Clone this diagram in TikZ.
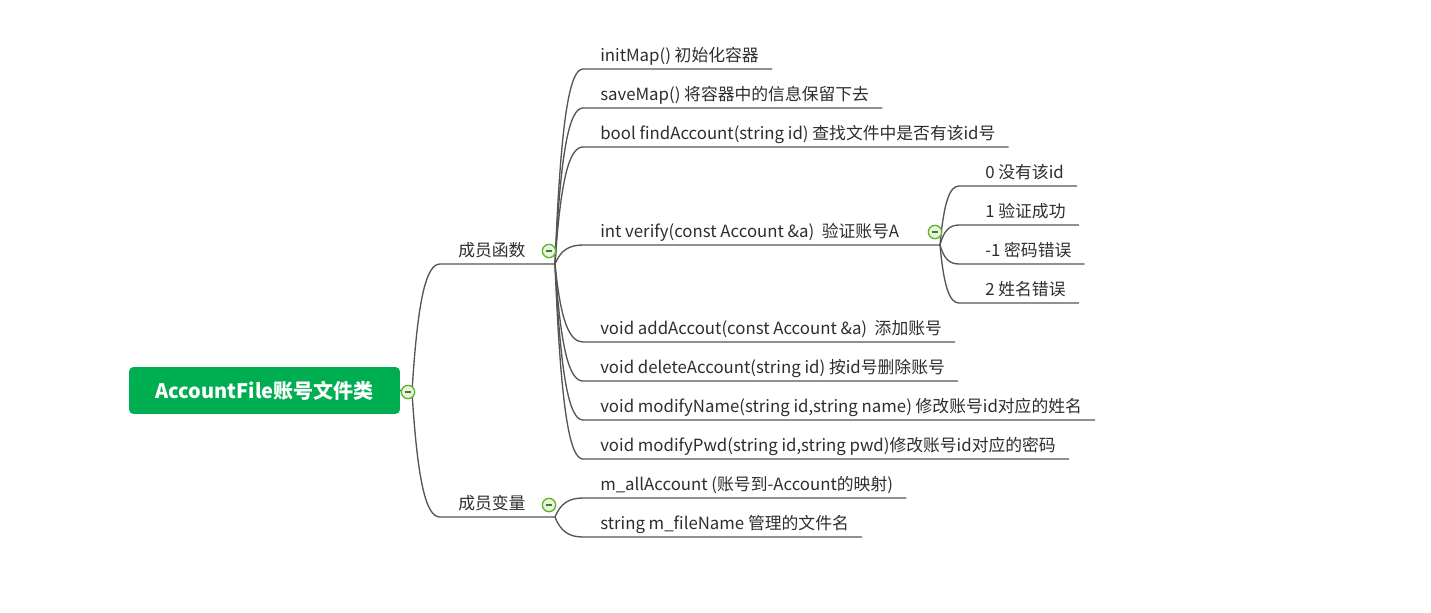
\documentclass[tikz,border=0pt]{standalone}
\usepackage{fontspec}
\setmainfont{Noto Sans CJK SC}
\usetikzlibrary{calc}
\definecolor{rootgreen}{RGB}{0,174,82}
\definecolor{linegray}{RGB}{85,85,85}
\definecolor{textgray}{RGB}{45,45,45}
\definecolor{ringgreen}{RGB}{98,178,48}
\definecolor{ringfill}{RGB}{232,245,222}

\tikzset{
  root/.style={fill=rootgreen, rounded corners=3pt, text=white,
    font=\fontsize{15}{18}\selectfont\bfseries, minimum width=203pt, minimum height=35pt},
  stem/.style={anchor=south west, inner xsep=13.5pt, inner ysep=2.25pt, text depth=3pt,
    text=textgray, font=\fontsize{12.6}{15}\selectfont},
  leaf/.style={anchor=south west, inner xsep=9.75pt, inner ysep=2.25pt, text depth=3pt,
    text=textgray, font=\fontsize{12.6}{15}\selectfont},
  wire/.style={draw=linegray, line width=1pt},
  fold/.style={circle, draw=ringgreen, fill=ringfill, line width=1pt, minimum size=10pt,
    inner sep=0pt, path picture={\draw[ringgreen!70!black, line width=1.2pt]
      ([xshift=-2.6pt]path picture bounding box.center) --
      ([xshift=2.6pt]path picture bounding box.center);}},
  twig/.style={to path={let \p1=(\tikztostart), \p2=(\tikztotarget) in
    .. controls ({\x1+0.2*(\x2-\x1)},{\y1+0.72*(\y2-\y1)})
    and ({\x2-0.5*(\x2-\x1)},\y2) .. (\tikztotarget)}}
}

\begin{document}
\begin{tikzpicture}[x=0.75pt, y=-0.75pt]
    \useasboundingbox (0,0) rectangle (1431,612);

    % The root
    \node[root] (root) at (264.5,390.5) {AccountFile账号文件类};
    \coordinate (rj) at (412,392);

    % The two branches
    \node[stem] (funcs) at (440,264) {成员函数};
    \node[stem] (vars) at (440,517) {成员变量};
    \coordinate (fj) at (555,264);
    \coordinate (vj) at (555,517);

    % Member functions
    \node[leaf] (init) at (587,69) {initMap() 初始化容器};
    \node[leaf] (save) at (587,108) {saveMap() 将容器中的信息保留下去};
    \node[leaf] (find) at (587,147) {bool findAccount(string id) 查找文件中是否有该id号};
    \node[leaf] (verify) at (587,245) {int verify(const Account \&a)\ \ 验证账号A};
    \node[leaf] (add) at (587,342) {void addAccout(const Account \&a)\ \ 添加账号};
    \node[leaf] (del) at (587,381) {void deleteAccount(string id) 按id号删除账号};
    \node[leaf] (name) at (587,420) {void modifyName(string id,string name) 修改账号id对应的姓名};
    \node[leaf] (pwd) at (587,459) {void modifyPwd(string id,string pwd)修改账号id对应的密码};
    \coordinate (wj) at (940,245);

    % Return values of verify
    \node[leaf] (r0) at (972,186) {0 没有该id};
    \node[leaf] (r1) at (972,225) {1 验证成功};
    \node[leaf] (r2) at (972,264) {-1 密码错误};
    \node[leaf] (r3) at (972,303) {2 姓名错误};

    % Member variables
    \node[leaf] (all) at (587,498) {m\_allAccount (账号到-Account的映射)};
    \node[leaf] (file) at (587,537) {string m\_fileName 管理的文件名};

    % Connectors
    \draw[wire] (root.east) -- (rj);
    \draw[wire] (rj) to[twig] (funcs.south west) -- (fj);
    \draw[wire] (rj) to[twig] (vars.south west) -- (vj);
    \foreach \leaf in {init,save,find,add,del,name,pwd}
        \draw[wire] (fj) to[twig] ([xshift=-3pt]\leaf.south west) -- (\leaf.south east);
    \draw[wire] (fj) to[twig] ([xshift=-3pt]verify.south west) -- (wj);
    \foreach \leaf in {all,file}
        \draw[wire] (vj) to[twig] ([xshift=-3pt]\leaf.south west) -- (\leaf.south east);
    \foreach \leaf in {r0,r1,r2,r3}
        \draw[wire] (wj) to[twig] ([xshift=-9.75pt]\leaf.south west) -- (\leaf.south east);

    % Fold buttons - draw LAST
    \node[fold] (rootfold) at (408,392) {};
    \node[fold] (funcsfold) at (549,251) {};
    \node[fold] (varsfold) at (549,505) {};
    \node[fold] (verifyfold) at (935,232) {};
\end{tikzpicture}
\end{document}
